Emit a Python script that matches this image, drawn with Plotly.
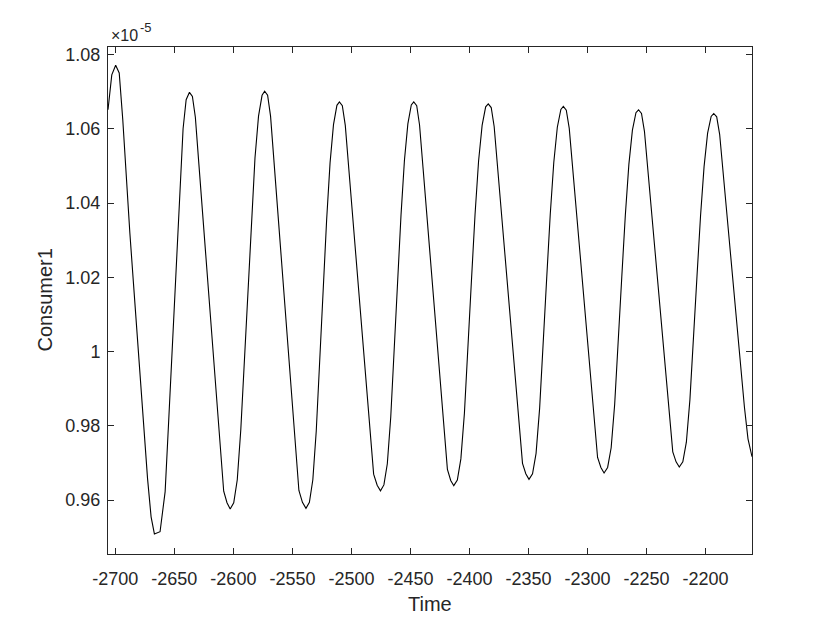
"""Consumer1 against time, drawn in the style of a MATLAB line plot."""
import plotly.graph_objects as go

# time axis (model time units)
time = [
    -2706.2, -2703.0, -2699.7,
    -2696.7, -2693.7, -2690.7, -2687.7, -2684.7, -2681.7, -2678.7, -2675.7, -2672.7, -2669.7, -2666.9, -2662.1,
    -2657.8, -2654.8, -2651.8, -2648.8, -2645.7, -2642.6, -2640.0, -2637.2,
    -2634.7, -2632.2, -2629.2, -2626.2, -2623.2, -2620.2, -2617.2, -2614.2, -2611.2, -2608.2, -2605.4, -2602.7,
    -2599.7, -2596.7, -2593.7, -2590.7, -2587.7, -2584.7, -2581.7, -2578.7, -2575.7, -2573.5,
    -2571.0, -2568.5, -2565.5, -2562.5, -2559.5, -2556.5, -2553.5, -2550.5, -2547.5, -2544.5, -2541.5, -2538.5,
    -2535.6, -2532.7, -2529.8, -2526.9, -2524.0, -2521.0, -2518.1, -2515.2, -2512.3, -2510.2,
    -2507.7, -2505.2, -2502.2, -2499.2, -2496.2, -2493.2, -2490.2, -2487.2, -2484.2, -2481.2, -2478.2, -2475.4,
    -2472.5, -2469.6, -2466.7, -2463.8, -2460.9, -2458.0, -2455.1, -2452.2, -2449.3, -2447.2,
    -2444.7, -2442.3, -2439.3, -2436.4, -2433.4, -2430.5, -2427.5, -2424.6, -2421.6, -2418.7, -2415.9, -2413.3,
    -2410.3, -2407.3, -2404.3, -2401.3, -2398.3, -2395.3, -2392.3, -2389.3, -2386.3, -2384.1,
    -2381.6, -2379.1, -2376.1, -2373.1, -2370.1, -2367.1, -2364.1, -2361.1, -2358.1, -2355.1, -2352.3, -2349.6,
    -2346.6, -2343.6, -2340.6, -2337.6, -2334.6, -2331.6, -2328.6, -2325.6, -2322.6, -2320.5,
    -2318.0, -2315.5, -2312.5, -2309.5, -2306.5, -2303.5, -2300.5, -2297.5, -2294.5, -2291.5, -2288.7, -2286.0,
    -2283.0, -2280.0, -2277.0, -2274.0, -2271.0, -2268.0, -2265.0, -2262.0, -2259.0, -2256.8,
    -2254.3, -2251.8, -2248.8, -2245.8, -2242.8, -2239.8, -2236.8, -2233.8, -2230.8, -2227.8, -2225.0, -2222.3,
    -2219.3, -2216.3, -2213.3, -2210.3, -2207.3, -2204.3, -2201.3, -2198.3, -2195.3, -2193.1,
    -2190.6, -2188.1, -2185.1, -2182.1, -2179.1, -2176.1, -2173.1, -2170.1, -2167.1, -2164.1, -2160.7,
]

# Consumer1, in units of 1e-5
consumer1_e5 = [
    1.0651, 1.0745, 1.0771,
    1.0750, 1.0625, 1.0465, 1.0320, 1.0187, 1.0053, 0.9922, 0.9791, 0.9658, 0.9555, 0.9509, 0.9515,
    0.9623, 0.9813, 1.0006, 1.0200, 1.0400, 1.0600, 1.0678, 1.0698,
    1.0687, 1.0631, 1.0504, 1.0378, 1.0253, 1.0127, 1.0002, 0.9879, 0.9750, 0.9624, 0.9593, 0.9576,
    0.9593, 0.9655, 0.9790, 0.9981, 1.0172, 1.0364, 1.0521, 1.0634, 1.0690, 1.0701,
    1.0690, 1.0634, 1.0507, 1.0381, 1.0255, 1.0129, 1.0005, 0.9881, 0.9752, 0.9626, 0.9594, 0.9578,
    0.9594, 0.9655, 0.9786, 0.9983, 1.0169, 1.0355, 1.0508, 1.0611, 1.0663, 1.0672,
    1.0662, 1.0609, 1.0491, 1.0374, 1.0256, 1.0139, 1.0023, 0.9908, 0.9787, 0.9670, 0.9640, 0.9625,
    0.9641, 0.9698, 0.9824, 1.0012, 1.0190, 1.0368, 1.0515, 1.0613, 1.0664, 1.0672,
    1.0662, 1.0610, 1.0493, 1.0378, 1.0262, 1.0146, 1.0032, 0.9918, 0.9799, 0.9683, 0.9653, 0.9639,
    0.9654, 0.9711, 0.9834, 1.0030, 1.0194, 1.0369, 1.0513, 1.0609, 1.0659, 1.0667,
    1.0657, 1.0606, 1.0492, 1.0379, 1.0266, 1.0152, 1.0040, 0.9929, 0.9813, 0.9699, 0.9671, 0.9656,
    0.9671, 0.9726, 0.9847, 1.0037, 1.0198, 1.0369, 1.0509, 1.0604, 1.0652, 1.0660,
    1.0650, 1.0601, 1.0489, 1.0379, 1.0268, 1.0158, 1.0048, 0.9939, 0.9826, 0.9715, 0.9688, 0.9673,
    0.9688, 0.9741, 0.9859, 1.0045, 1.0201, 1.0367, 1.0504, 1.0596, 1.0643, 1.0651,
    1.0641, 1.0593, 1.0485, 1.0377, 1.0269, 1.0161, 1.0055, 0.9949, 0.9838, 0.9730, 0.9703, 0.9689,
    0.9703, 0.9756, 0.9870, 1.0051, 1.0203, 1.0365, 1.0498, 1.0588, 1.0633, 1.0641,
    1.0632, 1.0585, 1.0479, 1.0374, 1.0269, 1.0165, 1.0061, 0.9958, 0.9850, 0.9765, 0.9717,
]

x_ticks = [-2700, -2650, -2600, -2550, -2500, -2450, -2400, -2350, -2300, -2250, -2200]
x_tick_labels = ["-2700", "-2650", "-2600", "-2550", "-2500", "-2450", "-2400",
                 "-2350", "-2300", "-2250", "-2200"]
y_ticks = [0.96, 0.98, 1.00, 1.02, 1.04, 1.06, 1.08]
y_tick_labels = ["0.96", "0.98", "1", "1.02", "1.04", "1.06", "1.08"]

FONT = "Liberation Sans, Arial, Helvetica, sans-serif"
AXIS_COLOR = "#262626"

fig = go.Figure()
fig.add_trace(go.Scatter(
    x=time, y=consumer1_e5, mode="lines",
    line=dict(color="black", width=1.1),
    showlegend=False, hoverinfo="x+y",
))

axis_common = dict(
    showline=True, linecolor=AXIS_COLOR, linewidth=1, mirror="ticks",
    ticks="inside", ticklen=6, tickcolor=AXIS_COLOR, tickwidth=1,
    showgrid=False, zeroline=False, automargin=False,
    tickfont=dict(family=FONT, size=18, color=AXIS_COLOR),
)

fig.update_xaxes(
    range=[min(time), max(time)], tickvals=x_ticks, ticktext=x_tick_labels,
    ticklabelstandoff=8, **axis_common,
)
fig.update_yaxes(
    range=[0.9455, 1.0820], tickvals=y_ticks, ticktext=y_tick_labels,
    ticklabelstandoff=3, **axis_common,
)

# axis titles
fig.add_annotation(
    text="Time", xref="paper", yref="paper", x=0.5, y=0, yshift=-50,
    showarrow=False, font=dict(family=FONT, size=20, color=AXIS_COLOR),
    xanchor="center", yanchor="middle",
)
fig.add_annotation(
    text="Consumer1", xref="paper", yref="paper", x=0, y=0.5, xshift=-64,
    textangle=-90, showarrow=False, font=dict(family=FONT, size=20, color=AXIS_COLOR),
    xanchor="center", yanchor="middle",
)

# MATLAB-style exponent label: base and raised power as two texts
fig.add_annotation(
    text="×10", xref="paper", yref="paper", x=0, y=1, xshift=1, yshift=12,
    showarrow=False, font=dict(family=FONT, size=16, color=AXIS_COLOR),
    xanchor="left", yanchor="middle",
)
fig.add_annotation(
    text="-5", xref="paper", yref="paper", x=0, y=1, xshift=30, yshift=20,
    showarrow=False, font=dict(family=FONT, size=13, color=AXIS_COLOR),
    xanchor="left", yanchor="middle",
)

# the page body keeps its default 8px margin, so the plot box is set 8px up and left
fig.update_layout(
    width=830, height=623,
    margin=dict(l=100, r=86, t=39, b=77),
    paper_bgcolor="white", plot_bgcolor="white",
)

fig.write_html("out.html")
